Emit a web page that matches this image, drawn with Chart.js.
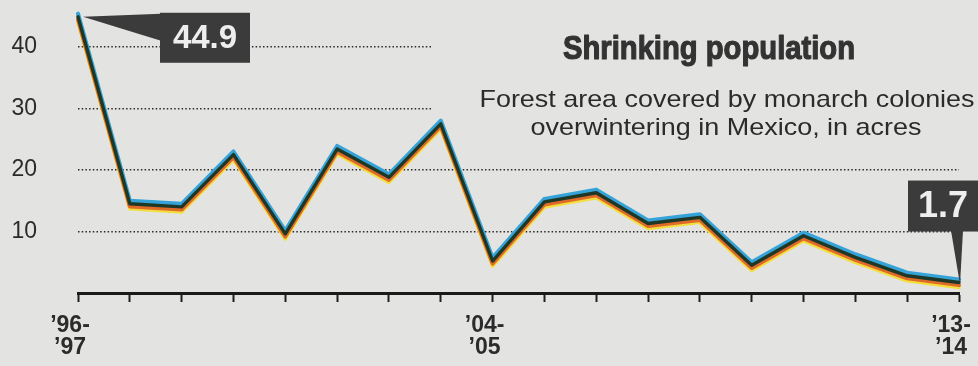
<!DOCTYPE html>
<html>
<head>
<meta charset="utf-8">
<script src="https://cdn.jsdelivr.net/npm/chart.js@4.4.1/dist/chart.umd.min.js"></script>
<style>
  html, body { margin: 0; padding: 0; background: #e3e3e1; }
  #wrap { width: 978px; height: 366px; position: relative; }
</style>
</head>
<body>
<div id="wrap"><canvas id="c" width="978" height="366"></canvas></div>
<script>
// Winter seasons, monarch overwintering colonies in Mexico
const seasons = [
  "\u201996-\u201997", "\u201997-\u201998", "\u201998-\u201999", "\u201999-\u201900",
  "\u201900-\u201901", "\u201901-\u201902", "\u201902-\u201903", "\u201903-\u201904",
  "\u201904-\u201905", "\u201905-\u201906", "\u201906-\u201907", "\u201907-\u201908",
  "\u201908-\u201909", "\u201909-\u201910", "\u201910-\u201911", "\u201911-\u201912",
  "\u201912-\u201913", "\u201913-\u201914"
];
// Forest area covered, in acres
const acres = [44.9, 14.5, 14.0, 22.5, 9.6, 23.4, 18.8, 27.5, 5.2, 14.8, 16.3, 11.3, 12.3, 4.5, 9.3, 5.8, 2.8, 1.7];
// Seasons that get an axis label
const labeledSeasons = ["\u201996-\u201997", "\u201904-\u201905", "\u201913-\u201914"];
// Gridline / tick values on the vertical axis
const yTickValues = [10, 20, 30, 40];

const BG = '#e3e3e1';
const INK = '#2b2b2b';

// Text squeezed or stretched horizontally to a set width
function fitText(ctx, text, x, y, width, align, strokeW) {
  const w = ctx.measureText(text).width;
  const k = width / w;
  ctx.save();
  const left = align === 'center' ? x - width / 2 : x;
  ctx.translate(left, y);
  ctx.scale(k, 1);
  ctx.textAlign = 'left';
  ctx.fillText(text, 0, 0);
  if (strokeW) {
    ctx.lineWidth = strokeW;
    ctx.lineJoin = 'round';
    ctx.strokeStyle = ctx.fillStyle;
    ctx.strokeText(text, 0, 0);
  }
  ctx.restore();
}

function drawCallout(ctx, box, tri, text, fontSize) {
  ctx.save();
  ctx.fillStyle = '#3b3b3b';
  ctx.beginPath();
  ctx.moveTo(tri[0][0], tri[0][1]);
  ctx.lineTo(tri[1][0], tri[1][1]);
  ctx.lineTo(tri[2][0], tri[2][1]);
  ctx.closePath();
  ctx.fill();
  ctx.fillRect(box.x, box.y, box.w, box.h);
  ctx.fillStyle = '#eeeeee';
  ctx.font = 'bold ' + fontSize + 'px "Liberation Sans", Arial, sans-serif';
  ctx.textAlign = 'center';
  ctx.textBaseline = 'middle';
  ctx.fillText(text, box.x + box.w / 2, box.y + box.h / 2 + 1);
  ctx.restore();
}

const decor = {
  id: 'decor',
  beforeDatasetsDraw(chart) {
    const ctx = chart.ctx;
    ctx.save();
    // clear the upper gridlines behind the heading block
    ctx.fillStyle = BG;
    ctx.fillRect(432, 22, 546, 98);
    ctx.textBaseline = 'alphabetic';
    ctx.fillStyle = '#333333';
    ctx.font = 'bold 34px "Liberation Sans", Arial, sans-serif';
    fitText(ctx, 'Shrinking population', 563, 59, 292, 'left', 1.2);
    ctx.fillStyle = INK;
    ctx.font = '24px "Liberation Sans", Arial, sans-serif';
    fitText(ctx, 'Forest area covered by monarch colonies', 727, 107, 495, 'center');
    fitText(ctx, 'overwintering in Mexico, in acres', 726, 135, 391, 'center');
    ctx.restore();
  },
  beforeDatasetDraw(chart, args) {
    const shift = chart.data.datasets[args.index].shiftY || 0;
    chart.ctx.save();
    chart.ctx.translate(0, shift);
  },
  afterDatasetDraw(chart) {
    chart.ctx.restore();
  },
  afterDatasetsDraw(chart) {
    const ctx = chart.ctx;
    const pts = chart.getDatasetMeta(0).data;
    const first = pts[0], last = pts[pts.length - 1];
    // first season
    const b1 = { x: first.x + 82, y: first.y - 4, w: 90, h: 50 };
    drawCallout(ctx, b1,
      [[first.x + 5, first.y], [b1.x + 1, b1.y + 1], [b1.x + 1, b1.y + 28]],
      acres[0].toFixed(1), 33);
    // latest season
    const b2 = { x: last.x - 51, y: last.y - 102, w: 70, h: 51 };
    drawCallout(ctx, b2,
      [[last.x - 8, b2.y + b2.h - 1], [last.x + 4, b2.y + b2.h - 1], [last.x + 1, last.y + 2]],
      acres[acres.length - 1].toFixed(1), 36);
  }
};

const band = (color, width, shiftY) => ({
  data: acres,
  borderColor: color,
  borderWidth: width,
  shiftY: shiftY,
  pointRadius: 0,
  tension: 0,
  fill: false,
  clip: false,
  borderJoinStyle: 'round',
  borderCapStyle: 'round'
});

new Chart(document.getElementById('c'), {
  type: 'line',
  data: {
    labels: seasons,
    datasets: [
      band('#1f3826', 3.4, 0),
      band('#35a3d8', 4.2, -3),
      band('#e06a28', 4, 2.6),
      band('#f2df3e', 3.6, 5)
    ]
  },
  options: {
    responsive: false,
    animation: false,
    devicePixelRatio: 1,
    layout: { padding: { top: 10, right: 19, left: 0, bottom: 0 } },
    plugins: { legend: { display: false }, tooltip: { enabled: false } },
    scales: {
      x: {
        type: 'category',
        offset: false,
        grid: { drawOnChartArea: false, drawTicks: true, tickLength: 9, tickWidth: 2, tickColor: '#1e1e1e' },
        border: { display: true, color: '#1a1a1a', width: 3 },
        ticks: {
          autoSkip: false,
          maxRotation: 0,
          padding: 13,
          labelOffset: -8,
          color: INK,
          font: { family: '"Liberation Sans", Arial, sans-serif', weight: 'bold', size: 23, lineHeight: 0.95 },
          callback(value, index) {
            const s = seasons[index];
            return labeledSeasons.includes(s) ? s.split(/(?<=-)/) : '';
          }
        },
        afterFit(scale) {
          scale.height = 73;
          scale.paddingLeft = 0;
          scale.paddingRight = 0;
        }
      },
      y: {
        min: 0,
        max: 46,
        afterBuildTicks(scale) { scale.ticks = yTickValues.map(v => ({ value: v })); },
        grid: { color: '#2a2a2a', lineWidth: 1.4, drawTicks: false },
        border: { display: false, dash: [1.5, 2.2] },
        ticks: {
          padding: 41,
          color: INK,
          font: { family: '"Liberation Sans", Arial, sans-serif', size: 23 }
        },
        afterFit(scale) {
          scale.width = 78;
          scale.paddingTop = 0;
          scale.paddingBottom = 0;
        }
      }
    }
  },
  plugins: [decor]
});
</script>
</body>
</html>
